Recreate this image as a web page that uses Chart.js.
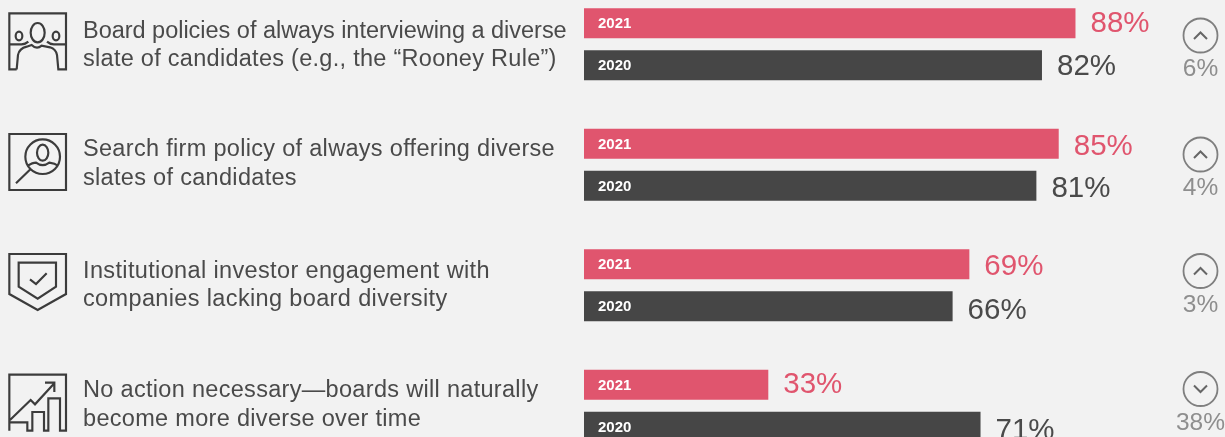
<!DOCTYPE html>
<html>
<head>
<meta charset="utf-8">
<script src="https://cdn.jsdelivr.net/npm/chart.js@4"></script>
<style>
  html, body { margin: 0; height: 100%; overflow: hidden; background: #f2f2f2; }
  #chart { position: absolute; left: 0; top: -16px; }
</style>
</head>
<body>
<canvas id="chart" width="1225" height="482"></canvas>
<script>
const categories = [
    ['Board policies of always interviewing a diverse', 'slate of candidates (e.g., the “Rooney Rule”)'],
    ['Search firm policy of always offering diverse', 'slates of candidates'],
    ['Institutional investor engagement with', 'companies lacking board diversity'],
    ['No action necessary—boards will naturally', 'become more diverse over time']
];
const values2021 = [88, 85, 69, 33];
const values2020 = [82, 81, 66, 71];
const changes = ['6%', '4%', '3%', '38%'];
const directions = ['up', 'up', 'up', 'down'];

const PINK = '#e0556e';
const DARK = '#464646';
const TEXT = '#4a4a4a';
const GREY = '#7f7f7f';
const GREY_TEXT = '#8e8e8e';

const icons = [
    { top: 0, path: 'M50 208H28V40H198V208H175L171 165Q168 148 150 142L125 137Q110 150 95 135L80 140Q58 145 54 165L50 208' +
        'M28 133H62Q75 134 85 125M198 133H164Q151 134 141 125' +
        'M134 98A21 29 0 1 1 92 98A21 29 0 1 1 134 98M67 108A10 13 0 1 1 47 108A10 13 0 1 1 67 108M178 108A10 13 0 1 1 158 108A10 13 0 1 1 178 108' },
    { top: 0, path: 'M28 402H198V570H28Z' +
        'M180 470A52 52 0 1 1 76 470A52 52 0 1 1 180 470M145 458A17 24 0 1 1 111 458A17 24 0 1 1 145 458' +
        'M82 498Q98 488 108 488Q128 503 148 488Q165 490 175 498M48 550L92 507' },
    { top: 220, path: 'M28 102H198V222L113 270L28 222Z' +
        'M56 128H168V200L113 236L56 200Z' +
        'M90 178L108 192L140 160' },
    { top: 220, path: 'M28 632V464H198V632H180V535H145V632H132V576H97V632H82V607H28' +
        'M30 600L92 540L105 553L163 490M135 488H163V516' }
];

// small per-row nudges so the text sits where it does in the original
const labelNudge = [1.5, -0.5, 0.5, -0.5];
const lineSpacing = [-0.02, 0.31, 0.36, 0.31];
const valueNudge = [[1, 2], [3, 3], [3, 5], [0, 4]];
const circleY = [35.5, 154.5, 271, 389];
const changeY = [69.5, 188.5, 305.5, 423];

const rowLabels = {
    id: 'rowLabels',
    afterDatasetsDraw(chart) {
        const { ctx } = chart;
        const y = chart.scales.y;
        ctx.save();
        ctx.textBaseline = 'middle';
        ctx.textAlign = 'left';

        chart.data.labels.forEach((lines, i) => {
            ctx.fillStyle = TEXT;
            ctx.font = '23.5px "Liberation Sans"';
            lines.forEach((line, n) => {
                ctx.letterSpacing = (i === 0 && n === 1 ? 0.28 : lineSpacing[i]) + 'px';
                ctx.fillText(line, 83, y.getPixelForTick(i) + labelNudge[i] + (n - 0.5) * 28.5);
            });
        });
        ctx.letterSpacing = '0px';

        chart.data.datasets.forEach((ds, d) => {
            chart.getDatasetMeta(d).data.forEach((bar, i) => {
                ctx.fillStyle = '#ffffff';
                ctx.font = 'bold 15px "Liberation Sans"';
                ctx.fillText(ds.label, bar.base + 14, bar.y + 1);

                ctx.fillStyle = ds.backgroundColor === PINK ? PINK : TEXT;
                ctx.font = '29.5px "Liberation Sans"';
                ctx.fillText(ds.data[i] + '%', bar.x + 15, bar.y + valueNudge[i][d]);
            });
        });
        ctx.restore();
    }
};

const sideMarks = {
    id: 'sideMarks',
    afterDraw(chart) {
        const { ctx } = chart;
        ctx.save();
        ctx.translate(0, 16); // canvas hangs 16px above the page

        icons.forEach(icon => {
            ctx.save();
            ctx.translate(0, icon.top);
            ctx.scale(1 / 3, 1 / 3);
            ctx.strokeStyle = '#3c3c3c';
            ctx.lineWidth = 6.5;
            ctx.stroke(new Path2D(icon.path));
            ctx.restore();
        });

        changes.forEach((c, i) => {
            const cx = 1200.5, cy = circleY[i];
            ctx.strokeStyle = GREY;
            ctx.lineWidth = 1.8;
            ctx.beginPath();
            ctx.arc(cx, cy, 17, 0, Math.PI * 2);
            ctx.stroke();
            const dir = directions[i] === 'up' ? -1 : 1;
            ctx.strokeStyle = '#666666';
            ctx.lineWidth = 2;
            ctx.beginPath();
            ctx.moveTo(cx - 6.5, cy - dir * 3.5);
            ctx.lineTo(cx, cy + dir * 3);
            ctx.lineTo(cx + 6.5, cy - dir * 3.5);
            ctx.stroke();

            ctx.fillStyle = GREY_TEXT;
            ctx.font = '24.5px "Liberation Sans"';
            ctx.textAlign = 'center';
            ctx.textBaseline = 'middle';
            ctx.fillText(c, cx, changeY[i]);
        });
        ctx.restore();
    }
};

new Chart(document.getElementById('chart').getContext('2d'), {
    type: 'bar',
    data: {
        labels: categories,
        datasets: [
            { label: '2021', data: values2021, backgroundColor: PINK, categoryPercentage: 0.697, barPercentage: 0.714 },
            { label: '2020', data: values2020, backgroundColor: DARK, categoryPercentage: 0.697, barPercentage: 0.714 }
        ]
    },
    options: {
        indexAxis: 'y',
        responsive: false,
        animation: false,
        layout: { padding: { left: 584, right: 82.5, top: 0, bottom: 0 } },
        plugins: { legend: { display: false }, tooltip: { enabled: false } },
        scales: {
            x: { display: false, min: 0, max: 100 },
            y: { display: false }
        }
    },
    plugins: [rowLabels, sideMarks]
});
</script>
</body>
</html>
